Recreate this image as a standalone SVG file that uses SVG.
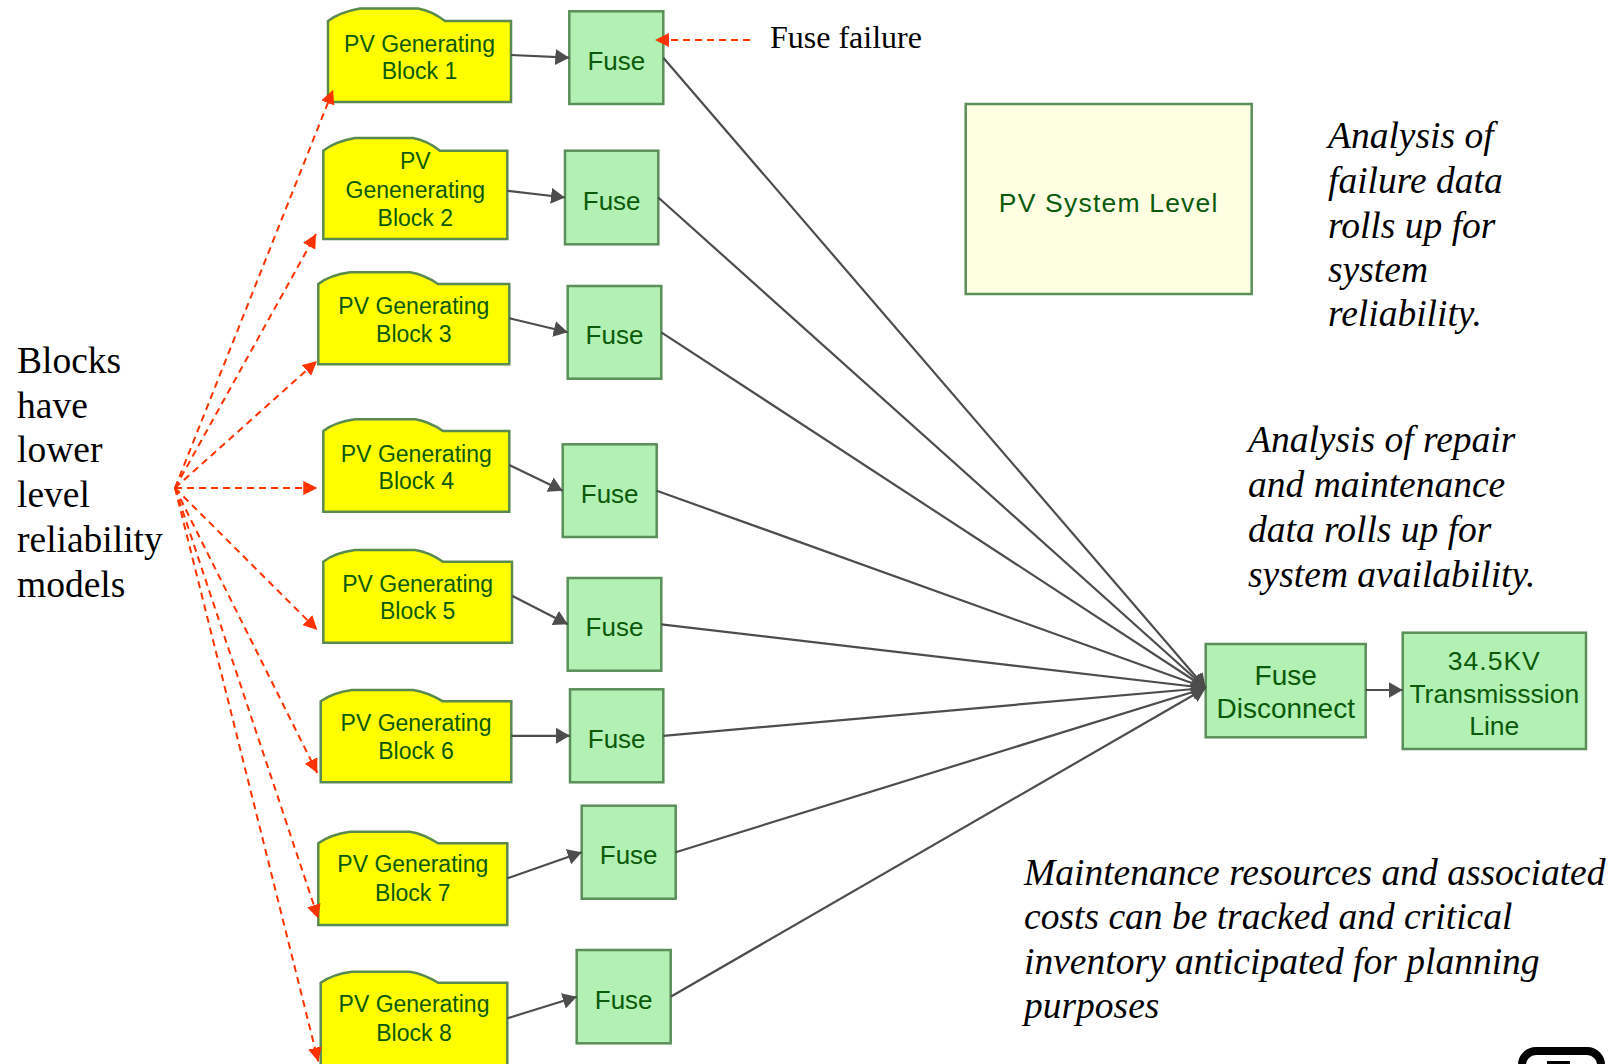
<svg xmlns="http://www.w3.org/2000/svg" width="1619" height="1064" viewBox="0 0 1619 1064">
  <style>
    .block { fill: #ffff00; stroke: #5a8a50; stroke-width: 2.5; }
    .fuse { fill: #b3f0b4; stroke: #5a8f5a; stroke-width: 2.5; }
    .level { fill: #fefee2; stroke: #5a8f5a; stroke-width: 2.5; }
    .lbl { font-family: "Liberation Sans", Arial, sans-serif; fill: #0a5a0a; text-anchor: middle; }
    .blk { font-size: 23px; }
    .fz { font-size: 26px; }
    .wire { stroke: #4d4d4d; stroke-width: 2.2; fill: none; marker-end: url(#ah); }
    .dash { stroke: #ff3300; stroke-width: 2; stroke-dasharray: 7 5; fill: none; marker-end: url(#rah); }
    .note { font-family: "Liberation Serif", "Times New Roman", serif; fill: #000; }
    .it { font-style: italic; }
  </style>
  <defs>
    <marker id="ah" markerUnits="userSpaceOnUse" viewBox="0 0 14 16" refX="14" refY="8" markerWidth="14" markerHeight="16" orient="auto">
      <path d="M0,0 L14,8 L0,16 Z" fill="#4d4d4d"/>
    </marker>
    <marker id="rah" markerUnits="userSpaceOnUse" viewBox="0 0 14 14" refX="14" refY="7" markerWidth="14" markerHeight="14" orient="auto">
      <path d="M0,0 L14,7 L0,14 Z" fill="#ff3300"/>
    </marker>
  </defs>

  <!-- generating blocks (folder-tab shape) -->
  <g id="block1">
    <path class="block" d="M328,102 V21 Q340,12 360,8.5 H418 Q432,11 445,21 H511 V102 Z"/>
    <text class="lbl blk" x="419.5" y="51.7">PV Generating</text>
    <text class="lbl blk" x="419.5" y="79">Block 1</text>
  </g>
  <g id="block2">
    <path class="block" d="M323.3,239 V150.7 Q335,141.5 355,138 H413 Q427,140.5 440,150.7 H507.3 V239 Z"/>
    <text class="lbl blk" x="415.3" y="169">PV</text>
    <text class="lbl blk" x="415.3" y="197.5">Genenerating</text>
    <text class="lbl blk" x="415.3" y="225.5">Block 2</text>
  </g>
  <g id="block3">
    <path class="block" d="M318.3,364.3 V284 Q330,275 350,272.3 H410 Q424,274.5 438,284 H509.3 V364.3 Z"/>
    <text class="lbl blk" x="413.8" y="314">PV Generating</text>
    <text class="lbl blk" x="413.8" y="341.7">Block 3</text>
  </g>
  <g id="block4">
    <path class="block" d="M323.3,511.7 V431 Q335,422 355,419.3 H415 Q429,421.5 443,431 H509.3 V511.7 Z"/>
    <text class="lbl blk" x="416.3" y="461.7">PV Generating</text>
    <text class="lbl blk" x="416.3" y="489">Block 4</text>
  </g>
  <g id="block5">
    <path class="block" d="M323.3,642.7 V561.7 Q335,552.5 355,550 H415 Q429,552 443,561.7 H512 V642.7 Z"/>
    <text class="lbl blk" x="417.7" y="591.7">PV Generating</text>
    <text class="lbl blk" x="417.7" y="619.3">Block 5</text>
  </g>
  <g id="block6">
    <path class="block" d="M320.7,782.3 V701.3 Q333,692.5 352,690 H413 Q427,692 443,701.3 H511.3 V782.3 Z"/>
    <text class="lbl blk" x="416" y="731">PV Generating</text>
    <text class="lbl blk" x="416" y="759.3">Block 6</text>
  </g>
  <g id="block7">
    <path class="block" d="M318.3,925 V843.3 Q330,834.5 350,831.7 H410 Q424,834 438,843.3 H507.3 V925 Z"/>
    <text class="lbl blk" x="412.8" y="871.7">PV Generating</text>
    <text class="lbl blk" x="412.8" y="901">Block 7</text>
  </g>
  <g id="block8">
    <path class="block" d="M320.7,1066 V982.7 Q333,974 352,971.7 H410 Q424,974 438,982.7 H507.3 V1066 Z"/>
    <text class="lbl blk" x="414" y="1011.7">PV Generating</text>
    <text class="lbl blk" x="414" y="1040.7">Block 8</text>
  </g>

  <!-- fuses -->
  <g id="fuse1"><rect class="fuse" x="569.3" y="11.3" width="94" height="92.7"/><text class="lbl fz" x="616.3" y="69.7">Fuse</text></g>
  <g id="fuse2"><rect class="fuse" x="565" y="150.7" width="93.3" height="93.6"/><text class="lbl fz" x="611.7" y="209.5">Fuse</text></g>
  <g id="fuse3"><rect class="fuse" x="567.7" y="286" width="93.6" height="92.7"/><text class="lbl fz" x="614.5" y="344.3">Fuse</text></g>
  <g id="fuse4"><rect class="fuse" x="562.7" y="444.3" width="94" height="92.7"/><text class="lbl fz" x="609.7" y="502.7">Fuse</text></g>
  <g id="fuse5"><rect class="fuse" x="567.7" y="578" width="93.6" height="92.7"/><text class="lbl fz" x="614.5" y="636.3">Fuse</text></g>
  <g id="fuse6"><rect class="fuse" x="570" y="689.3" width="93.3" height="93"/><text class="lbl fz" x="616.7" y="747.8">Fuse</text></g>
  <g id="fuse7"><rect class="fuse" x="581.7" y="805.7" width="94" height="93"/><text class="lbl fz" x="628.7" y="864.2">Fuse</text></g>
  <g id="fuse8"><rect class="fuse" x="576.7" y="950" width="94" height="93.3"/><text class="lbl fz" x="623.7" y="1008.7">Fuse</text></g>

  <!-- downstream equipment -->
  <g id="fuse-disconnect">
    <rect class="fuse" x="1205.7" y="644" width="160" height="93.3"/>
    <text class="lbl" font-size="28" x="1285.7" y="685">Fuse</text>
    <text class="lbl" font-size="28" x="1285.7" y="718.3">Disconnect</text>
  </g>
  <g id="transmission-line">
    <rect class="fuse" x="1402.7" y="632.7" width="183.3" height="116.3"/>
    <text class="lbl" font-size="26.5" letter-spacing="1" x="1494.3" y="670">34.5KV</text>
    <text class="lbl" font-size="26.5" x="1494.3" y="703.3">Transmisssion</text>
    <text class="lbl" font-size="26.5" x="1494.3" y="735">Line</text>
  </g>
  <g id="system-level">
    <rect class="level" x="965.7" y="104" width="286" height="190"/>
    <text class="lbl" font-size="26.5" letter-spacing="1.2" x="1108.7" y="211.7">PV System Level</text>
  </g>

  <!-- connectors -->
  <g id="connectors">
    <!-- block to fuse -->
    <line class="wire" x1="511" y1="55" x2="569.3" y2="57.7"/>
    <line class="wire" x1="507.3" y1="190.7" x2="565" y2="197.5"/>
    <line class="wire" x1="509.3" y1="318.3" x2="567.7" y2="332.3"/>
    <line class="wire" x1="509.3" y1="465" x2="562.7" y2="490.7"/>
    <line class="wire" x1="512" y1="595.7" x2="567.7" y2="624.3"/>
    <line class="wire" x1="511.3" y1="735.8" x2="570" y2="735.8"/>
    <line class="wire" x1="507.3" y1="878.3" x2="581.7" y2="852.2"/>
    <line class="wire" x1="507.3" y1="1018.3" x2="576.7" y2="996.7"/>
    <!-- fuse to fuse disconnect -->
    <line class="wire" x1="663.3" y1="57.7" x2="1205.7" y2="688"/>
    <line class="wire" x1="658.3" y1="197.5" x2="1205.7" y2="688"/>
    <line class="wire" x1="661.3" y1="332.3" x2="1205.7" y2="688"/>
    <line class="wire" x1="656.7" y1="490.7" x2="1205.7" y2="688"/>
    <line class="wire" x1="661.3" y1="624.3" x2="1205.7" y2="688"/>
    <line class="wire" x1="663.3" y1="735.8" x2="1205.7" y2="688"/>
    <line class="wire" x1="675.7" y1="852.2" x2="1205.7" y2="688"/>
    <line class="wire" x1="670.7" y1="996.7" x2="1205.7" y2="688"/>
    <!-- disconnect to line -->
    <line class="wire" x1="1365.7" y1="690" x2="1402.7" y2="690"/>
    <!-- reliability model fan-out -->
    <line class="dash" x1="175" y1="488" x2="333" y2="90"/>
    <line class="dash" x1="175" y1="488" x2="316" y2="234"/>
    <line class="dash" x1="175" y1="488" x2="317" y2="361"/>
    <line class="dash" x1="175" y1="488" x2="317.3" y2="488"/>
    <line class="dash" x1="175" y1="488" x2="317.3" y2="630"/>
    <line class="dash" x1="175" y1="488" x2="317.3" y2="773"/>
    <line class="dash" x1="175" y1="488" x2="318.3" y2="918.5"/>
    <line class="dash" x1="175" y1="488" x2="318.3" y2="1061.5"/>
    <!-- fuse failure pointer -->
    <line class="dash" x1="750" y1="40" x2="655" y2="40"/>
  </g>

  <!-- annotations -->
  <text class="note" font-size="32" x="770" y="48">Fuse failure</text>
  <text class="note" font-size="37.5">
    <tspan x="17" y="373">Blocks</tspan>
    <tspan x="17" y="418">have</tspan>
    <tspan x="17" y="462">lower</tspan>
    <tspan x="17" y="507">level</tspan>
    <tspan x="17" y="552">reliability</tspan>
    <tspan x="17" y="597">models</tspan>
  </text>
  <text class="note it" font-size="37.5">
    <tspan x="1328" y="148">Analysis of</tspan>
    <tspan x="1328" y="193">failure data</tspan>
    <tspan x="1328" y="238">rolls up for</tspan>
    <tspan x="1328" y="282">system</tspan>
    <tspan x="1328" y="326">reliability.</tspan>
  </text>
  <text class="note it" font-size="37.5">
    <tspan x="1248" y="452">Analysis of repair</tspan>
    <tspan x="1248" y="497">and maintenance</tspan>
    <tspan x="1248" y="542">data rolls up for</tspan>
    <tspan x="1248" y="587">system availability.</tspan>
  </text>
  <text class="note it" font-size="37.5">
    <tspan x="1024" y="885">Maintenance resources and associated</tspan>
    <tspan x="1024" y="929">costs can be tracked and critical</tspan>
    <tspan x="1024" y="974">inventory anticipated for planning</tspan>
    <tspan x="1024" y="1018">purposes</tspan>
  </text>

  <!-- corner emblem, partly off the page -->
  <g id="emblem">
    <rect x="1522" y="1051" width="79" height="40" rx="14" fill="none" stroke="#000" stroke-width="8"/>
    <rect x="1547" y="1061" width="23" height="5" fill="#000"/>
  </g>
</svg>
